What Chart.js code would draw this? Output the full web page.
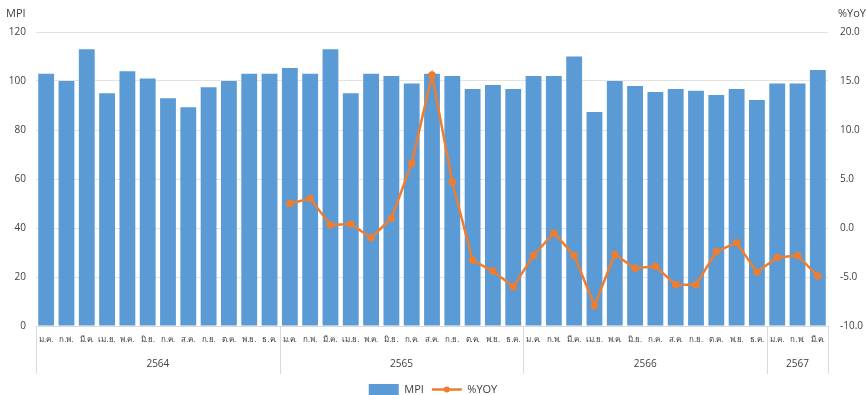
<!DOCTYPE html>
<html>
<head>
<meta charset="utf-8">
<script src="https://cdn.jsdelivr.net/npm/chart.js@4"></script>
<style>
  html, body { margin: 0; padding: 0; background: #fff; }
  #wrap { width: 866px; height: 395px; }
</style>
</head>
<body>
<div id="wrap"><canvas id="MpiChart"></canvas></div>
<script>
const months = ['ม.ค.', 'ก.พ.', 'มี.ค.', 'เม.ย.', 'พ.ค.', 'มิ.ย.', 'ก.ค.', 'ส.ค.', 'ก.ย.', 'ต.ค.', 'พ.ย.', 'ธ.ค.'];
const years = ['2564', '2565', '2566', '2567'];
const monthsPerYear = [12, 12, 12, 3];

const mpi = [
  103, 100, 113, 95, 104, 101, 93, 89.3, 97.5, 100, 103, 103,
  105.3, 103, 113, 95, 103, 102, 99, 103, 102, 96.7, 98.4, 96.7,
  102, 102, 110, 87.3, 100, 98, 95.5, 96.7, 96, 94.3, 96.7, 92.2,
  99, 99, 104.5
];
const yoy = [
  null, null, null, null, null, null, null, null, null, null, null, null,
  2.5, 3.0, 0.3, 0.4, -1.0, 1.0, 6.6, 15.6, 4.7, -3.3, -4.4, -6.0,
  -2.8, -0.5, -2.8, -7.9, -2.7, -4.1, -3.9, -5.8, -5.8, -2.4, -1.5, -4.5,
  -3.0, -2.8, -4.9
];

const leftTicks = [0, 20, 40, 60, 80, 100, 120];
const rightTicks = [-10, -5, 0, 5, 10, 15, 20];

const labels = [];
monthsPerYear.forEach(function(n) {
  for (let i = 0; i < n; i++) labels.push(months[i]);
});

const FONT = "'Open Sans', 'Noto Sans', sans-serif";
const BLUE = '#5B9BD5';
const ORANGE = '#ED7D31';

// year row under the month labels, with separators between groups
const yearGroups = {
  id: 'yearGroups',
  afterDraw: function(chart) {
    const x = chart.scales.x;
    const c = chart.ctx;
    const half = (x.getPixelForValue(1) - x.getPixelForValue(0)) / 2;
    const top = x.top;
    const bottom = x.top + 48;
    c.save();
    c.strokeStyle = '#d9d9d9';
    c.lineWidth = 1;
    c.fillStyle = '#404040';
    c.font = '10px ' + FONT;
    c.textAlign = 'center';
    c.textBaseline = 'middle';
    let start = 0;
    years.forEach(function(y, i) {
      const n = monthsPerYear[i];
      const left = x.getPixelForValue(start) - half;
      const right = x.getPixelForValue(start + n - 1) + half;
      c.beginPath();
      c.moveTo(Math.round(left) + 0.5, top);
      c.lineTo(Math.round(left) + 0.5, bottom);
      c.stroke();
      if (i === years.length - 1) {
        c.beginPath();
        c.moveTo(Math.round(right) + 0.5, top);
        c.lineTo(Math.round(right) + 0.5, bottom);
        c.stroke();
      }
      c.fillText(y, (left + right) / 2, top + 38);
      start += n;
    });
    // axis titles
    c.font = '11px ' + FONT;
    c.textAlign = 'left';
    c.fillText('MPI', 6, 14);
    c.fillText('%YoY', 838, 14);

    // marker dot on the %YOY legend line
    const lg = chart.legend;
    if (lg && lg.legendItems) {
      lg.legendItems.forEach(function(it, k) {
        if (it.text !== '%YOY') return;
        const hb = lg.legendHitBoxes[k];
        c.fillStyle = ORANGE;
        c.beginPath();
        c.arc(hb.left + 15, hb.top + hb.height / 2, 3, 0, Math.PI * 2);
        c.fill();
      });
    }
    c.restore();
  }
};

window.onload = function() {
  const ctx = document.getElementById('MpiChart').getContext('2d');

  const data = {
    labels: labels,
    datasets: [
      {
        type: 'line',
        label: '%YOY',
        data: yoy,
        yAxisID: 'y1',
        borderColor: ORANGE,
        backgroundColor: ORANGE,
        borderWidth: 2.5,
        pointRadius: 2.5,
        pointHoverRadius: 3,
        tension: 0,
        order: 0
      },
      {
        type: 'bar',
        label: 'MPI',
        data: mpi,
        yAxisID: 'y',
        backgroundColor: BLUE,
        categoryPercentage: 0.78,
        barPercentage: 1,
        order: 1
      }
    ]
  };

  const config = {
    data: data,
    plugins: [yearGroups],
    options: {
      responsive: true,
      maintainAspectRatio: false,
      animation: false,
      layout: { padding: { top: 32, left: 0, right: 0, bottom: -10 } },
      scales: {
        x: {
          offset: true,
          grid: { display: false, drawTicks: false },
          border: { color: '#d9d9d9' },
          ticks: {
            autoSkip: false, maxRotation: 0, minRotation: 0, padding: 9,
            color: '#404040', font: { family: FONT, size: 8 }
          },
          afterFit: function(s) { s.height = 50; }
        },
        y: {
          position: 'left',
          min: 0, max: 120,
          afterBuildTicks: function(s) { s.ticks = leftTicks.map(function(v) { return { value: v }; }); },
          grid: { color: '#e3e3e3', drawTicks: false },
          border: { display: false },
          ticks: { padding: 10, color: '#404040', font: { family: FONT, size: 10 } },
          afterFit: function(s) { s.width = 36; }
        },
        y1: {
          position: 'right',
          min: -10, max: 20,
          afterBuildTicks: function(s) { s.ticks = rightTicks.map(function(v) { return { value: v }; }); },
          grid: { display: false, drawTicks: false },
          border: { display: false },
          ticks: {
            padding: 12, color: '#404040', font: { family: FONT, size: 10 },
            callback: function(v) { return Number(v).toFixed(1); }
          },
          afterFit: function(s) { s.width = 38; }
        }
      },
      plugins: {
        legend: {
          position: 'bottom',
          reverse: true,
          labels: {
            color: '#404040',
            font: { family: FONT, size: 11 },
            usePointStyle: true,
            pointStyleWidth: 30,
            boxHeight: 11,
            padding: 8,
            generateLabels: function(chart) {
              const items = Chart.defaults.plugins.legend.labels.generateLabels(chart);
              items.forEach(function(it) {
                if (it.text === '%YOY') {
                  it.pointStyle = 'line';
                  it.lineWidth = 2.5;
                  it.strokeStyle = ORANGE;
                } else {
                  it.pointStyle = 'rect';
                  it.lineWidth = 0;
                }
              });
              return items;
            }
          }
        },
        tooltip: { enabled: false }
      }
    }
  };

  const myChart = new Chart(ctx, config);
};
</script>
</body>
</html>
